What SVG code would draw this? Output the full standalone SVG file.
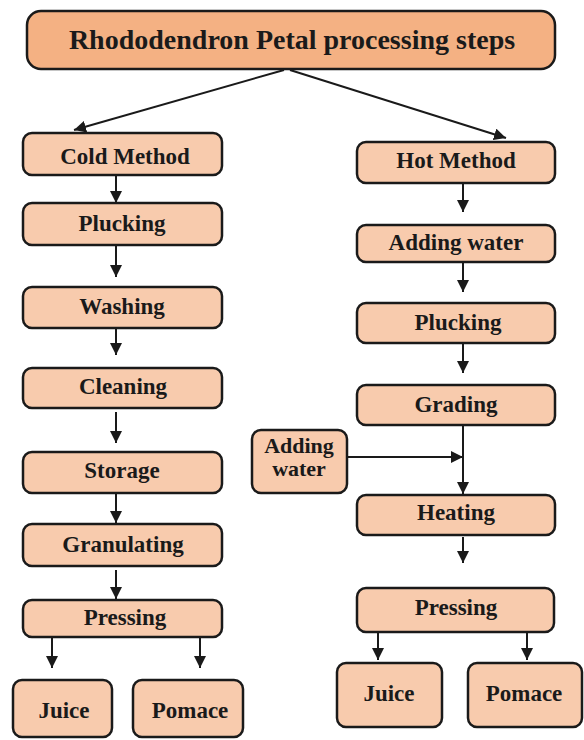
<svg xmlns="http://www.w3.org/2000/svg" width="584" height="740" viewBox="0 0 584 740">
<style>
.box{fill:#F8CBAD;stroke:#1a1a1a;stroke-width:2.5}
.title{fill:#F4B183;stroke:#1a1a1a;stroke-width:2.5}
text{font-family:"Liberation Serif",Tinos,"Times New Roman","DejaVu Serif",serif;font-weight:bold;font-size:23px;fill:#1a1a1a;text-anchor:middle}
.t{font-size:28px}
.s{font-size:22px}
.c line{stroke:#1a1a1a;stroke-width:2;marker-end:url(#ah)}
</style>
<defs>
<marker id="ah" markerUnits="userSpaceOnUse" viewBox="0 0 12 12" refX="12" refY="6" markerWidth="12" markerHeight="12" orient="auto">
<path d="M0,0 L12,6 L0,12 z" fill="#1a1a1a"/>
</marker>
</defs>
<rect width="584" height="740" fill="#fff"/>
<g id="connectors" class="c">
<line x1="284" y1="70" x2="74" y2="130"/>
<line x1="290" y1="70" x2="506" y2="138"/>
<line x1="116" y1="175" x2="116" y2="203"/>
<line x1="116" y1="245" x2="116" y2="277"/>
<line x1="116" y1="328" x2="116" y2="355"/>
<line x1="116" y1="412" x2="116" y2="443"/>
<line x1="116" y1="493" x2="116" y2="523"/>
<line x1="116" y1="570" x2="116" y2="599"/>
<line x1="52" y1="637" x2="52" y2="668"/>
<line x1="200" y1="637" x2="200" y2="668"/>
<line x1="463" y1="183" x2="463" y2="212"/>
<line x1="463" y1="262" x2="463" y2="292"/>
<line x1="463" y1="343" x2="463" y2="373"/>
<line x1="463" y1="425" x2="463" y2="494"/>
<line x1="347" y1="457" x2="463" y2="457"/>
<line x1="463" y1="537" x2="463" y2="563"/>
<line x1="378" y1="632" x2="378" y2="660"/>
<line x1="527" y1="632" x2="527" y2="660"/>
</g>
<g id="title"><rect class="title" x="27" y="11" width="528" height="58" rx="14"/><text class="t" x="292" y="49">Rhododendron Petal processing steps</text></g>
<g id="cold"><rect class="box" x="23" y="133" width="199" height="42" rx="9"/><text x="125" y="164">Cold Method</text></g>
<g id="c_plucking"><rect class="box" x="23" y="203" width="199" height="42" rx="9"/><text x="122" y="231">Plucking</text></g>
<g id="c_washing"><rect class="box" x="23" y="287" width="199" height="41" rx="9"/><text x="122" y="314">Washing</text></g>
<g id="c_cleaning"><rect class="box" x="23" y="368" width="199" height="40" rx="9"/><text x="123" y="394">Cleaning</text></g>
<g id="c_storage"><rect class="box" x="23" y="452" width="199" height="41" rx="9"/><text x="122" y="478">Storage</text></g>
<g id="c_granulating"><rect class="box" x="23" y="524" width="199" height="42" rx="9"/><text x="123" y="552">Granulating</text></g>
<g id="c_pressing"><rect class="box" x="23" y="600" width="199" height="37" rx="9"/><text x="125" y="625">Pressing</text></g>
<g id="c_juice"><rect class="box" x="13" y="680" width="99" height="57" rx="9"/><text x="64" y="718">Juice</text></g>
<g id="c_pomace"><rect class="box" x="133" y="680" width="110" height="57" rx="9"/><text x="190" y="718">Pomace</text></g>
<g id="hot"><rect class="box" x="357" y="142" width="198" height="41" rx="9"/><text x="456" y="168">Hot Method</text></g>
<g id="h_adding"><rect class="box" x="357" y="225" width="198" height="37" rx="9"/><text x="456" y="250">Adding water</text></g>
<g id="h_plucking"><rect class="box" x="357" y="303" width="198" height="40" rx="9"/><text x="458" y="330">Plucking</text></g>
<g id="h_grading"><rect class="box" x="357" y="385" width="198" height="40" rx="9"/><text x="456" y="412">Grading</text></g>
<g id="h_water"><rect class="box" x="252" y="430" width="95" height="63" rx="9"/><text class="s" x="299" y="453">Adding</text><text class="s" x="299" y="476">water</text></g>
<g id="h_heating"><rect class="box" x="357" y="495" width="198" height="40" rx="9"/><text x="456" y="520">Heating</text></g>
<g id="h_pressing"><rect class="box" x="357" y="588" width="197" height="44" rx="9"/><text x="456" y="615">Pressing</text></g>
<g id="h_juice"><rect class="box" x="337" y="663" width="105" height="64" rx="9"/><text x="389" y="701">Juice</text></g>
<g id="h_pomace"><rect class="box" x="468" y="663" width="114" height="64" rx="9"/><text x="524" y="701">Pomace</text></g>
</svg>
